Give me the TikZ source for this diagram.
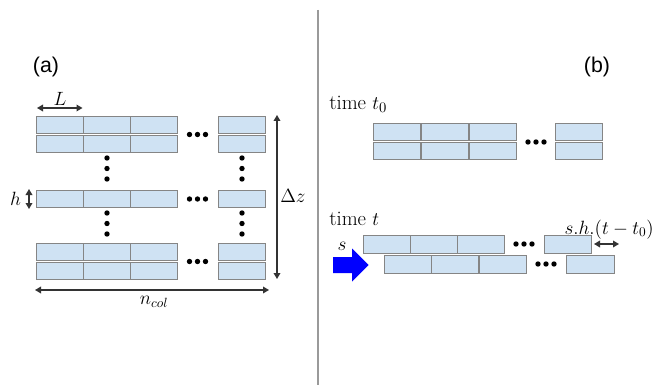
\documentclass[tikz,border=0pt]{standalone}
\usepackage{fontspec}
\newfontfamily\arialfont{Liberation Sans}
\usetikzlibrary{arrows.meta}
\definecolor{cellblue}{HTML}{CFE2F3}
\definecolor{cellline}{HTML}{858585}
\definecolor{divline}{HTML}{9A9A9A}
\definecolor{arrowcol}{HTML}{333333}
\begin{document}
\begin{tikzpicture}[x=0.75pt,y=-0.75pt,
  cell/.style={draw=cellline, fill=cellblue, line width=0.8pt, inner sep=0pt,
    minimum width=35.4pt, minimum height=13.2pt},
  dotc/.style={fill=black},
  dim/.style={draw=arrowcol, line width=0.9pt, {Triangle[width=5pt,length=4.5pt]}-{Triangle[width=5pt,length=4.5pt]}},
  panel/.style={font=\arialfont\fontsize{16}{19}\selectfont, inner sep=0pt},
  timelab/.style={font=\fontsize{15.5}{18}\selectfont, inner sep=0pt},
  mathlab/.style={font=\fontsize{14.5}{17}\selectfont, inner sep=0pt}
]
\useasboundingbox (0,0) rectangle (654,385);
% divider
\draw[divline, line width=0.8pt] (318,10) -- (318,385);
% panel labels
\node[panel, anchor=base] (pa) at (46,73) {(a)};
\node[panel, anchor=base] (pb) at (597,73) {(b)};

% ---------- left panel ----------
\foreach \r/\yc in {a1/125, a2/144, a3/199, a4/252, a5/271}{
  \foreach \i in {0,1,2}{
    \node[cell] (\r c\i) at ({36+47.3*\i+23.65},\yc) {};
  }
  \node[cell] (\r r) at (242,\yc) {};
}
% horizontal dots
\foreach \yc in {134.5,199,261.5}{
  \foreach \dx in {-8,0,8}{
    \fill[dotc] ({197.5+\dx},\yc) circle[radius=2.7];
  }
}
% vertical dots
\foreach \xc in {107,242}{
  \foreach \yc in {158,168.5,179,213,223.5,234}{
    \fill[dotc] (\xc,\yc) circle[radius=2.7];
  }
}
% L
\coordinate (L1) at (37,108);
\coordinate (L2) at (82.5,108);
\draw[dim] (L1) -- (L2);
\node[mathlab] (Llab) at (60,99) {$L$};
% h
\coordinate (h1) at (29,189);
\coordinate (h2) at (29,209);
\draw[dim] (h1) -- (h2);
\node[mathlab] (hlab) at (15.5,199) {$h$};
% Delta z
\coordinate (z1) at (277,115);
\coordinate (z2) at (277,279);
\draw[dim] (z1) -- (z2);
\node[mathlab, anchor=west] (zlab) at (280,196) {$\Delta z$};
% n_col
\coordinate (n1) at (35,290);
\coordinate (n2) at (269,290);
\draw[dim] (n1) -- (n2);
\node[mathlab] (nlab) at (154,302) {$n_{col}$};

% ---------- right panel ----------
\node[timelab, anchor=base west] (tt0) at (329,110) {time $t_0$};
\foreach \r/\yc in {b1/132, b2/151}{
  \foreach \i in {0,1,2}{
    \node[cell] (\r c\i) at ({373+48*\i+24},\yc) {};
  }
  \node[cell] (\r r) at (579,\yc) {};
}
\foreach \dx in {-8,0,8}{
  \fill[dotc] ({536+\dx},142) circle[radius=2.7];
}

\node[timelab, anchor=base west] (tt) at (329,225) {time $t$};
\foreach \i in {0,1,2}{
  \node[cell] (c1c\i) at ({363+47.3*\i+23.65},244.5) {};
  \node[cell] (c2c\i) at ({384+47.6*\i+23.8},264.5) {};
}
\node[cell] (c1r) at (568,244.5) {};
\node[cell] (c2r) at (590.5,264.5) {};
\foreach \dx in {-8,0,8}{
  \fill[dotc] ({524+\dx},244) circle[radius=2.7];
  \fill[dotc] ({546+\dx},264) circle[radius=2.7];
}
% shift arrow
\coordinate (s1) at (594,244);
\coordinate (s2) at (619,244);
\draw[dim] (s1) -- (s2);
\node[mathlab, font=\fontsize{14}{16}\selectfont, anchor=base east] (shlab) at (654,234) {$s.h.(t-t_0)$};
% blue arrow
\node[mathlab, font=\fontsize{15}{17}\selectfont, anchor=base] (slab) at (342,250) {$s$};
\fill[blue] (333,257) -- (352,257) -- (352,248.5) -- (368.5,265) -- (352,281.5) -- (352,273) -- (333,273) -- cycle;
\end{tikzpicture}
\end{document}
